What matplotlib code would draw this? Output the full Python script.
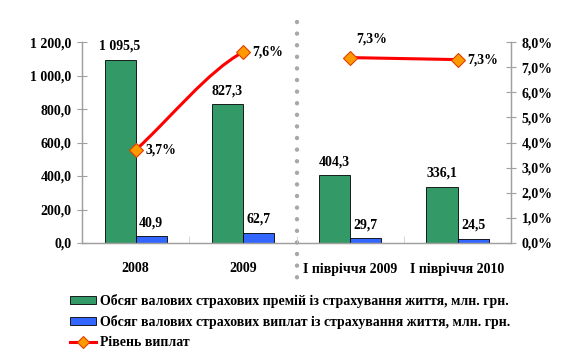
import numpy as np
import matplotlib
matplotlib.use("Agg")
import matplotlib.pyplot as plt
from matplotlib.path import Path
from matplotlib.patches import PathPatch, Patch
from matplotlib.lines import Line2D
from matplotlib.ticker import FuncFormatter, FixedLocator

plt.rcParams["font.family"] = ["Liberation Serif", "DejaVu Serif"]
plt.rcParams["font.weight"] = "bold"

categories = ["2008", "2009", "І півріччя 2009", "І півріччя 2010"]
premiums = [1095.5, 827.3, 404.3, 336.1]
payments = [40.9, 62.7, 29.7, 24.5]
pay_level = [3.7, 7.6, 7.38, 7.3]
pay_labels = ["3,7%", "7,6%", "7,3%", "7,3%"]

legend_labels = [
    "Обсяг валових страхових премій із страхування життя, млн. грн.",
    "Обсяг валових страхових виплат із страхування життя, млн. грн.",
    "Рівень виплат",
]

GREEN = "#339966"
BLUE = "#3366FF"
RED = "#FF0000"
ORANGE = "#FF9900"
GREY = "#A0A0A0"
FS = 10


def ua_num(v, dec=1):
    s = f"{v:,.{dec}f}"
    return s.replace(",", " ").replace(".", ",")


fig = plt.figure(figsize=(5.76, 3.57), dpi=100)
ax = fig.add_axes([0.1424, 0.3193, 0.745, 0.563])
ax2 = ax.twinx()

x = np.arange(len(categories))
w = 0.29
ax.bar(x - w / 2, premiums, w, color=GREEN, edgecolor="black", linewidth=0.6, zorder=2)
ax.bar(x + w / 2, payments, w, color=BLUE, edgecolor="black", linewidth=0.6, zorder=2)

for xi, v in zip(x, premiums):
    ax.annotate(ua_num(v), (xi - w / 2, v), xytext=(0, 5), textcoords="offset points",
                ha="center", va="bottom", fontsize=FS, fontweight="bold")
for xi, v in zip(x, payments):
    ax.annotate(ua_num(v), (xi + w / 2, v), xytext=(0, 5), textcoords="offset points",
                ha="center", va="bottom", fontsize=FS, fontweight="bold")

ax.set_xlim(-0.5, 3.5)
ax.set_ylim(0, 1200)
ax.set_yticks(np.arange(0, 1201, 200))
ax.yaxis.set_major_formatter(FuncFormatter(lambda v, p: ua_num(v)))
ax.set_xticks(x)
ax.set_xticklabels(categories)
ax.xaxis.set_minor_locator(FixedLocator([0.5, 1.5, 2.5]))
ax.tick_params(axis="x", which="major", length=0, pad=14, labelsize=FS)
ax.tick_params(axis="x", which="minor", length=5, direction="in", color="#D0D0D0")
ax.tick_params(axis="y", direction="inout", length=7, color=GREY, labelsize=FS, pad=4)

ax2.set_ylim(0, 8)
ax2.set_yticks(np.arange(0, 8.01, 1))
ax2.yaxis.set_major_formatter(FuncFormatter(lambda v, p: ua_num(v) + "%"))
ax2.tick_params(axis="y", direction="inout", length=7, color=GREY, labelsize=FS, pad=4)

for a in (ax, ax2):
    a.spines["top"].set_visible(False)
    for s in ("left", "right", "bottom"):
        a.spines[s].set_color(GREY)
        a.spines[s].set_linewidth(0.9)

# smoothed line for the yearly pair, straight for the half-year pair
y0, y1 = pay_level[0], pay_level[1]
dy = y1 - y0
verts = [(x[0], y0), (x[0] + 1 / 3, y0 + dy / 3), (x[1] - 1 / 3, y1 - dy * 0.2), (x[1], y1)]
curve = PathPatch(Path(verts, [Path.MOVETO, Path.CURVE4, Path.CURVE4, Path.CURVE4]),
                  facecolor="none", edgecolor=RED, linewidth=2.2, zorder=3)
ax2.add_patch(curve)
ax2.plot(x[2:], pay_level[2:], color=RED, linewidth=2.2, zorder=3)
ax2.plot(x, pay_level, linestyle="none", marker="D", markersize=7,
         markerfacecolor=ORANGE, markeredgecolor="#E04000", markeredgewidth=0.8, zorder=4)

offsets = [(7, 0, "left", "center"), (7, 0, "left", "center"),
           (4, 9, "left", "bottom"), (7, 0, "left", "center")]
for xi, v, lab, (ox, oy, ha, va) in zip(x, pay_level, pay_labels, offsets):
    ax2.annotate(lab, (xi, v), xytext=(ox, oy), textcoords="offset points",
                 ha=ha, va=va, fontsize=FS, fontweight="bold", zorder=5)

# dotted divider between yearly and half-year data
ax.plot([1.5, 1.5], [1.10, -0.21], transform=ax.get_xaxis_transform(), clip_on=False,
        color="#A8A8A8", linewidth=3.2, linestyle=(0, (0.01, 2.6)),
        dash_capstyle="round", zorder=1)

handles = [
    Patch(facecolor=GREEN, edgecolor="black", linewidth=0.6),
    Patch(facecolor=BLUE, edgecolor="black", linewidth=0.6),
    Line2D([], [], color=RED, linewidth=2.2, marker="D", markersize=6,
           markerfacecolor=ORANGE, markeredgecolor="#E04000", markeredgewidth=0.8),
]
fig.legend(handles, legend_labels, loc="upper left", bbox_to_anchor=(0.121, 0.176),
           frameon=False, fontsize=10, handlelength=1.9, handleheight=0.55,
           handletextpad=0.3, labelspacing=0.5, borderaxespad=0, borderpad=0)

fig.savefig("out.png", dpi=100)
